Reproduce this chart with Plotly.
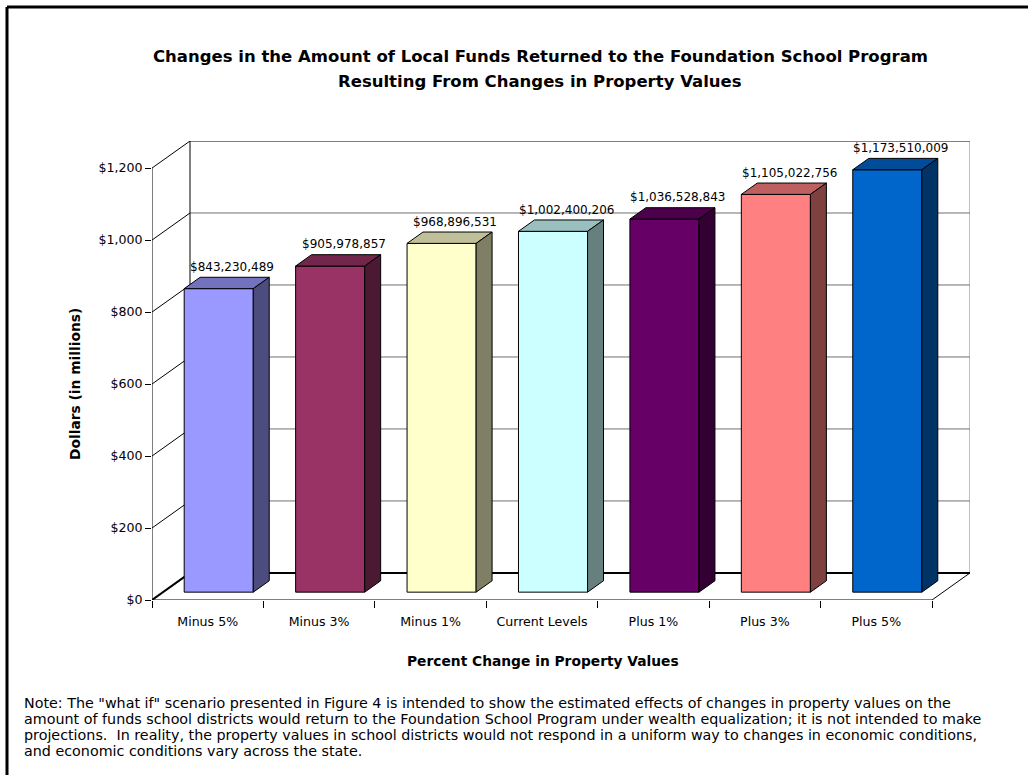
import plotly.graph_objects as go

# ---------------- data ----------------
categories = ["Minus 5%", "Minus 3%", "Minus 1%", "Current Levels", "Plus 1%", "Plus 3%", "Plus 5%"]
values = [843230489, 905978857, 968896531, 1002400206, 1036528843, 1105022756, 1173510009]
y_tickvals = [0, 200, 400, 600, 800, 1000, 1200]
y_ticktext = ["$0", "$200", "$400", "$600", "$800", "$1,000", "$1,200"]
bar_colors = ["#9999FF", "#993366", "#FFFFCC", "#CCFFFF", "#660066", "#FF8080", "#0066CC"]

title_lines = ["Changes in the Amount of Local Funds Returned to the Foundation School Program",
               "Resulting From Changes in Property Values"]
x_title = "Percent Change in Property Values"
y_title = "Dollars (in millions)"
note_lines = [
    'Note: The "what if" scenario presented in Figure 4 is intended to show the estimated effects of changes in property values on the',
    'amount of funds school districts would return to the Foundation School Program under wealth equalization; it is not intended to make',
    'projections.  In reality, the property values in school districts would not respond in a uniform way to changes in economic conditions,',
    'and economic conditions vary across the state.',
]

# ---------------- geometry / style ----------------
W, H = 1028, 775
ML, MR, MT, MB = 152, 58, 141, 175
PW, PH = W - ML - MR, H - MT - MB
YMAX = max(y_tickvals)
DX = 0.341          # depth offset in category units
DY = 75.2           # depth offset in value units
F0, F1 = 0.29, 0.71  # bar front/back as fraction of depth
BAR_W = 0.62
FONT = "DejaVu Sans"

n = len(categories)
vals_m = [v / 1e6 for v in values]
centers = [i + 0.5 for i in range(n)]


def shade(hexc, k):
    r, g, b = int(hexc[1:3], 16), int(hexc[3:5], 16), int(hexc[5:7], 16)
    return "#%02x%02x%02x" % (int(r * k), int(g * k), int(b * k))


def px_x(p):
    return (p - ML) / PW


def px_y(p):
    return (H - MB - p) / PH


fig = go.Figure()

# ---------- walls & floor (shapes below traces) ----------
shapes = []


def seg(x0, y0, x1, y1, color="black", width=1):
    shapes.append(dict(type="line", xref="x", yref="y", x0=x0, y0=y0, x1=x1, y1=y1,
                       line=dict(color=color, width=width), layer="below"))


# back wall gridlines
for v in y_tickvals[1:-1]:
    seg(DX, v + DY, n + DX, v + DY, color="#707070")
    seg(0, v, DX, v + DY, color="black")
# back wall top and right edges
seg(DX, YMAX + DY, n + DX, YMAX + DY, color="black")
seg(n + DX, DY, n + DX, YMAX + DY, color="#808080")
# left wall
seg(0, YMAX, DX, YMAX + DY, color="black")
seg(DX, DY, DX, YMAX + DY, color="black")
seg(0, 0, 0, YMAX, color="black")
# floor
seg(0, 0, DX, DY, color="black", width=2)
seg(DX, DY, n + DX, DY, color="black", width=2)
seg(n, 0, n + DX, DY, color="black")
seg(0, 0, n, 0, color="black")

# frame around the figure
shapes.append(dict(type="line", xref="paper", yref="paper", x0=px_x(7), y0=px_y(7), x1=px_x(W), y1=px_y(7),
                   line=dict(color="black", width=3)))
shapes.append(dict(type="line", xref="paper", yref="paper", x0=px_x(7), y0=px_y(7), x1=px_x(7), y1=px_y(H),
                   line=dict(color="black", width=3)))

# ---------- bars: front faces ----------
fx0, fy0 = F0 * DX, F0 * DY
bdx, bdy = (F1 - F0) * DX, (F1 - F0) * DY

fig.add_trace(go.Bar(
    x=[c + fx0 for c in centers], y=vals_m, base=fy0, width=BAR_W,
    marker=dict(color=bar_colors, line=dict(color="black", width=1)),
    hoverinfo="skip", showlegend=False))

# top and side faces
for c, v, col in zip(centers, vals_m, bar_colors):
    xl = c - BAR_W / 2 + fx0
    xr = c + BAR_W / 2 + fx0
    top = v + fy0
    fig.add_trace(go.Scatter(
        x=[xl, xr, xr + bdx, xl + bdx, xl], y=[top, top, top + bdy, top + bdy, top],
        fill="toself", fillcolor=shade(col, 0.75), mode="lines",
        line=dict(color="black", width=1), hoverinfo="skip", showlegend=False))
    fig.add_trace(go.Scatter(
        x=[xr, xr, xr + bdx, xr + bdx, xr], y=[fy0, top, top + bdy, fy0 + bdy, fy0],
        fill="toself", fillcolor=shade(col, 0.5), mode="lines",
        line=dict(color="black", width=1), hoverinfo="skip", showlegend=False))

# ---------- annotations ----------
annotations = []
for c, v, raw in zip(centers, vals_m, values):
    annotations.append(dict(x=c + 0.22, y=v + fy0 + 60, xref="x", yref="y",
                            text="$" + format(raw, ","), showarrow=False,
                            font=dict(family=FONT, size=12, color="black"),
                            xanchor="center", yanchor="middle"))

for i, line in enumerate(title_lines):
    annotations.append(dict(x=px_x(540), y=px_y(56 + 26 * i), xref="paper", yref="paper",
                            text="<b>" + line + "</b>", showarrow=False,
                            font=dict(family=FONT, size=16.5, color="black"),
                            xanchor="center", yanchor="middle", align="center"))
annotations.append(dict(x=px_x(543), y=px_y(661), xref="paper", yref="paper",
                        text="<b>" + x_title + "</b>", showarrow=False,
                        font=dict(family=FONT, size=13.8, color="black"),
                        xanchor="center", yanchor="middle"))
annotations.append(dict(x=px_x(75), y=px_y(384), xref="paper", yref="paper",
                        text="<b>" + y_title + "</b>", showarrow=False, textangle=-90,
                        font=dict(family=FONT, size=13.8, color="black"),
                        xanchor="center", yanchor="middle"))
for i, line in enumerate(note_lines):
    annotations.append(dict(x=px_x(22), y=px_y(703 + 16 * i), xref="paper", yref="paper",
                            text=line, showarrow=False, align="left",
                            font=dict(family=FONT, size=14.3, color="black"),
                            xanchor="left", yanchor="middle"))

fig.update_layout(
    width=W, height=H,
    margin=dict(l=ML, r=MR, t=MT, b=MB, pad=0),
    paper_bgcolor="white", plot_bgcolor="white",
    shapes=shapes, annotations=annotations, showlegend=False,
    xaxis=dict(range=[0, n + DX], showgrid=False, zeroline=False, showline=False,
               tickmode="array", tickvals=centers, ticktext=categories, ticks="",
               ticklabelstandoff=12,
               tickfont=dict(family=FONT, size=12.6, color="black"),
               minor=dict(tickmode="array", tickvals=list(range(n + 1)), ticks="outside",
                          ticklen=7, tickcolor="black", tickwidth=1, showgrid=False)),
    yaxis=dict(range=[0, YMAX + DY], showgrid=False, zeroline=False, showline=False,
               tickmode="array", tickvals=y_tickvals, ticktext=y_ticktext,
               ticks="outside", ticklen=6, tickcolor="black", tickwidth=1,
               tickfont=dict(family=FONT, size=12.6, color="black")),
)

fig.write_html("out.html")
